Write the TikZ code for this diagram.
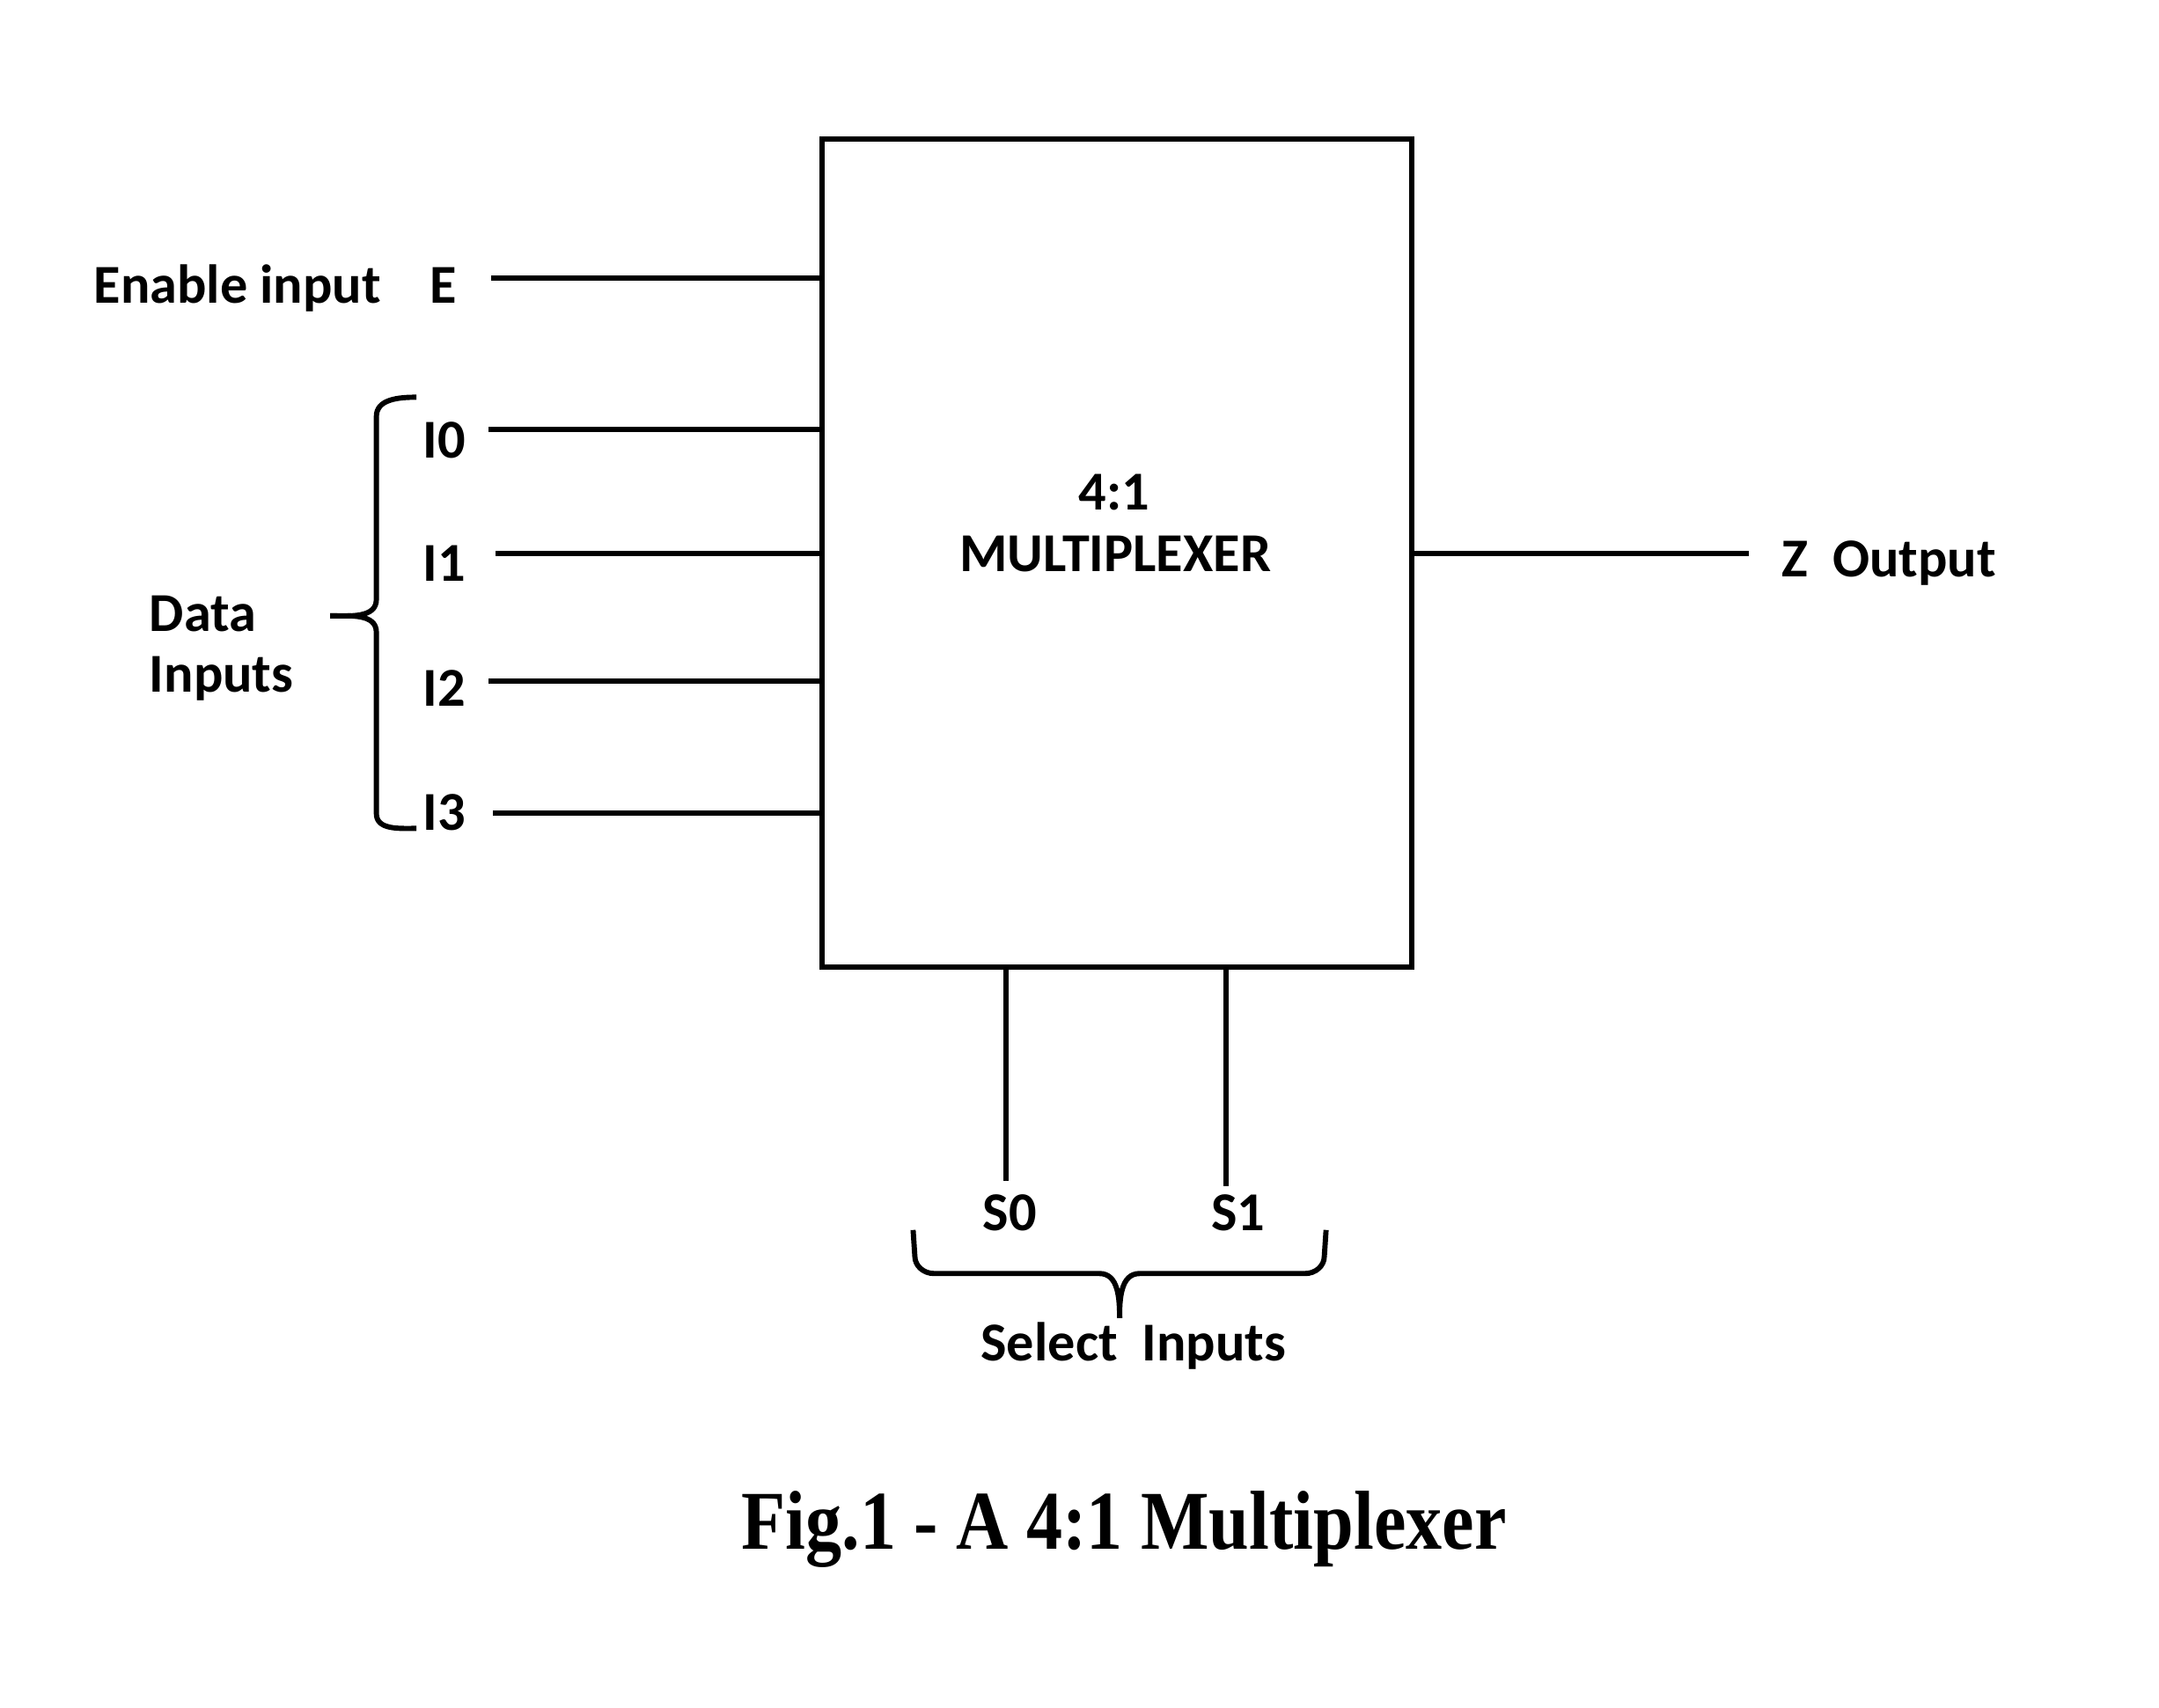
\documentclass[tikz,border=0pt]{standalone}
\usepackage{fontspec}
\usepackage{graphicx}
\setmainfont{Liberation Serif}
\newfontfamily\lblfont{Carlito}

\tikzset{
  lbl/.style={font=\lblfont\bfseries\fontsize{17.9}{21}\selectfont, inner sep=0pt, anchor=base},
  wire/.style={line width=1.7pt},
}

\begin{document}
\begin{tikzpicture}[x=0.01cm, y=-0.01cm]
    \useasboundingbox (0,0) rectangle (2478,1960);

    % 方框
    \node[draw, wire, minimum width=6.76cm, minimum height=9.5cm, inner sep=0pt] (mux) at (1282,635) {};
    \node[lbl] (mux41) at (1279,585) {4:1};
    \node[lbl] (muxname) at (1280,656) {MULTIPLEXER};

    % 使能输入
    \node[lbl, anchor=base west] (enlbl) at (107,348) {Enable input};
    \node[lbl, anchor=base west] (elbl) at (493,348) {E};
    \coordinate (eIn) at (564,319);
    \draw[wire] (eIn) -- (eIn -| mux.west);

    % 数据输入
    \node[lbl] (i0) at (510,526) {I0};
    \node[lbl] (i1) at (510,667) {I1};
    \node[lbl] (i2) at (510,811) {I2};
    \node[lbl] (i3) at (510,953) {I3};
    \coordinate (i0In) at (561,493);
    \coordinate (i1In) at (569,635);
    \coordinate (i2In) at (561,782);
    \coordinate (i3In) at (566,933);
    \draw[wire] (i0In) -- (i0In -| mux.west);
    \draw[wire] (i1In) -- (i1In -| mux.west);
    \draw[wire] (i2In) -- (i2In -| mux.west);
    \draw[wire] (i3In) -- (i3In -| mux.west);

    % 左括号
    \coordinate (dTip) at (379,707);
    \draw[wire] (478,456) to[out=180, in=90] (432,478) -- (432,688)
        to[out=-90, in=0] (dTip);
    \draw[wire] (dTip) to[out=0, in=90] (432,726) -- (432,934)
        to[out=-90, in=180] (478,951);
    \node[lbl, anchor=base west] (dlbl) at (171,725) {Data};
    \node[lbl, anchor=base west] (dlbl2) at (171,795) {Inputs};

    % 输出
    \coordinate (zOut) at (2007,635);
    \draw[wire] (zOut -| mux.east) -- (zOut);
    \node[lbl, anchor=base west] (zlbl) at (2044,662) {Z~~Output};

    % 选择输入
    \coordinate (s0End) at (1155,1356);
    \coordinate (s1End) at (1407,1362);
    \draw[wire] (s0End |- mux.south) -- (s0End);
    \draw[wire] (s1End |- mux.south) -- (s1End);
    \node[lbl] (s0) at (1159,1413) {S0};
    \node[lbl] (s1) at (1421,1413) {S1};

    % 下括号
    \coordinate (sTip) at (1285,1513);
    \draw[wire] (1048,1412) -- (1050,1442) to[out=-90, in=180] (1072,1462)
        -- (1262,1462) to[out=0, in=90] (sTip);
    \draw[wire] (sTip) to[out=90, in=180] (1308,1462) -- (1498,1462)
        to[out=0, in=-90] (1520,1442) -- (1522,1412);
    \node[lbl] (slbl) at (1301,1562) {Select~~Inputs};

    % 图题
    \node[anchor=base, inner sep=0pt, font=\bfseries\fontsize{27.3}{32}\selectfont] (cap) at (1290,1778)
        {\scalebox{0.864}[1]{Fig.1 - A 4:1 Multiplexer}};
\end{tikzpicture}
\end{document}
